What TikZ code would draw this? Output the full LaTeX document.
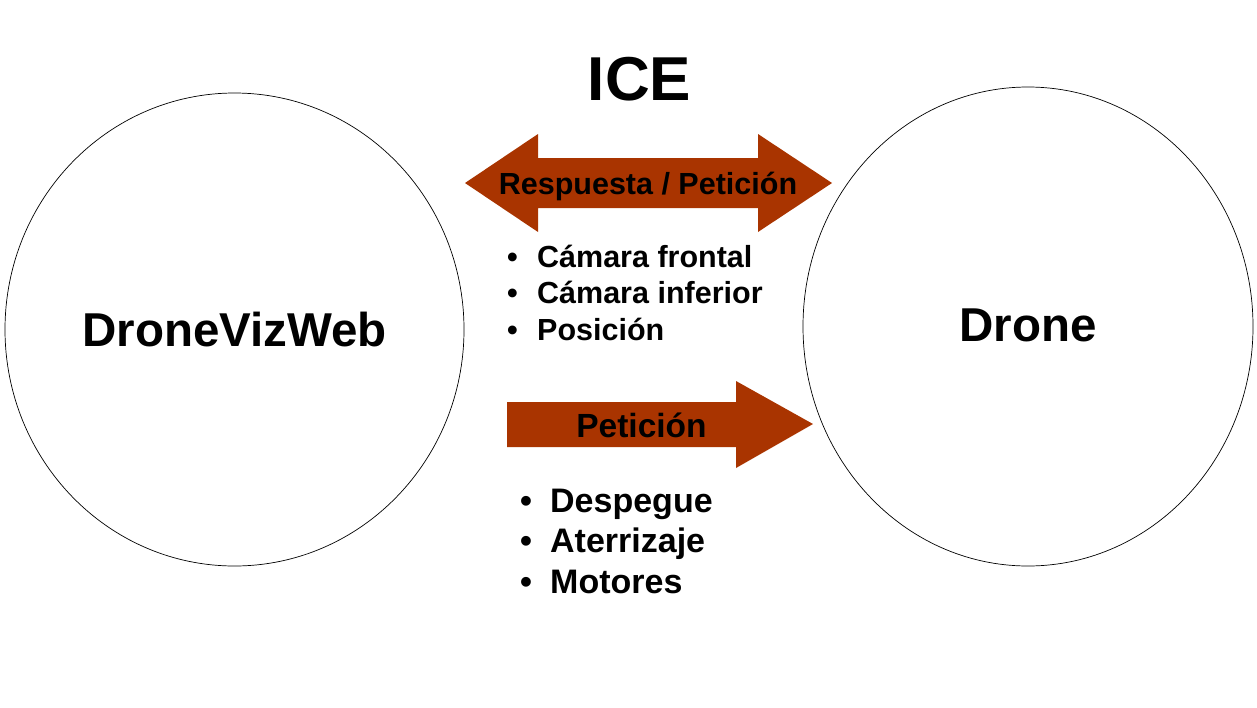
\documentclass[tikz,border=0pt]{standalone}
\usepackage{fontspec}
\setmainfont{Liberation Sans}

\definecolor{rojoflecha}{RGB}{169,52,0}

\begin{document}
\begin{tikzpicture}[x=1pt,y=-1pt,
  circulo/.style={draw=black,line width=.7pt},
  grande/.style={font=\fontsize{47.5}{56}\selectfont\bfseries},
  rotulo/.style={font=\fontsize{30.5}{36}\selectfont\bfseries,inner sep=0pt},
  lista/.style={anchor=base west,inner sep=0pt}]

\def\flechadoble{-- ++(73,-49)-- ++(0,24)-- ++(220,0)-- ++(0,-24)--
 ++(74,49)-- ++(-74,49)-- ++(0,-24)-- ++(-220,0)-- ++(0,24)-- cycle}
\def\flechasimple{-- ++(229,0)-- ++(0,-21)-- ++(77,43)-- ++(-77,44)--
 ++(0,-21)-- ++(-229,0)-- cycle}

\useasboundingbox (0,0) rectangle (1257,707);

\draw[circulo] (234.5,329.5) ellipse (229.5 and 236.5);
\draw[circulo] (1028,326.5) ellipse (225 and 239.5);

\node[grande] (dronevizweb) at (234.5,330) {DroneVizWeb};
\node[grande] (drone) at (1028,325.5) {Drone};
\node[font=\fontsize{62}{70}\selectfont\bfseries] (ice) at (639.5,79.5) {ICE};

\fill[rojoflecha] (465,183) \flechadoble;
\fill[rojoflecha] (507,402) \flechasimple;

\node[rotulo,anchor=base] (respuesta) at (648,194) {Respuesta / Petición};
\node[rotulo,font=\fontsize{33.5}{40}\selectfont\bfseries,anchor=base]
 (peticion) at (641.5,437) {Petición};

\foreach \texto [count=\i] in {Cámara frontal,Cámara inferior,Posición}
 \node[lista,rotulo] (camara\i) at (507,{267+36.5*(\i-1)})
 {\makebox[30pt][l]{•}\texto};

\foreach \texto [count=\i] in {Despegue,Aterrizaje,Motores}
 \node[lista,rotulo,font=\fontsize{34}{40}\selectfont\bfseries] (orden\i)
 at (520,{512+40.5*(\i-1)}) {\makebox[30pt][l]{•}\texto};

\end{tikzpicture}
\end{document}
